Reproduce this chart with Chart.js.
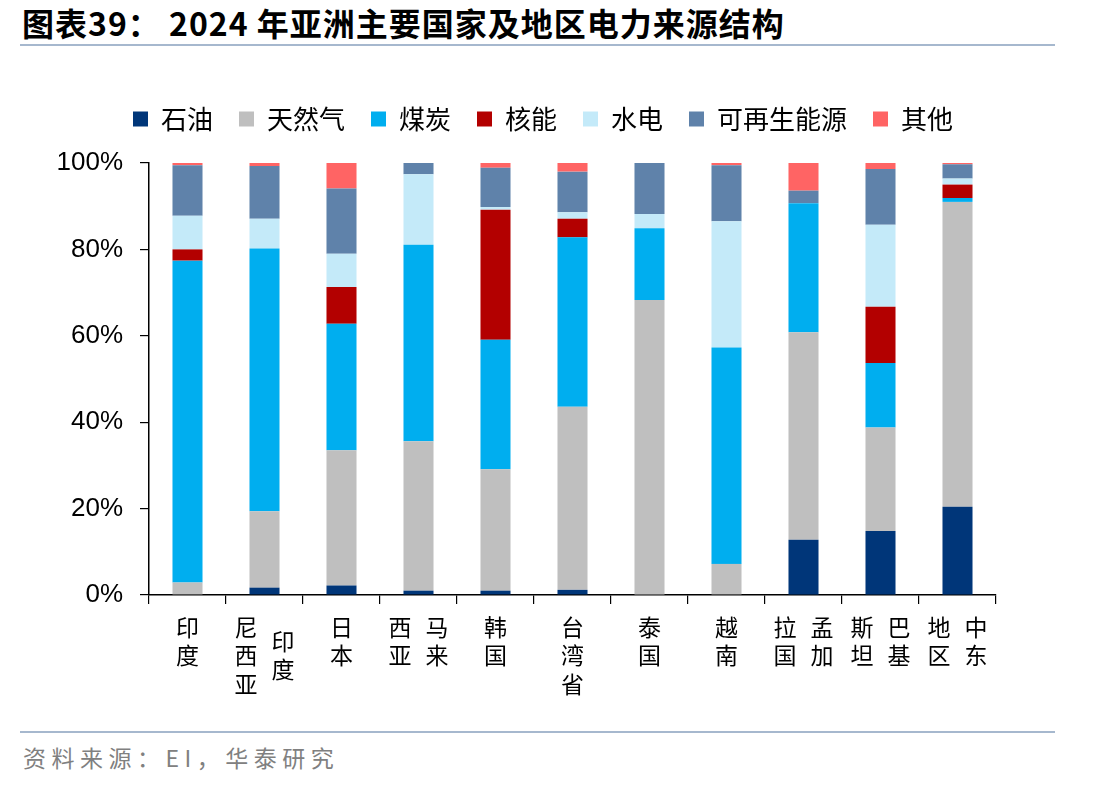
<!DOCTYPE html>
<html lang="zh">
<head>
<meta charset="UTF-8">
<title>2024年亚洲主要国家及地区电力来源结构</title>
<script src="https://cdn.jsdelivr.net/npm/chart.js"></script>
<style>
  body {
    margin: 0;
    background: #fff;
    width: 1112px;
    height: 787px;
    position: relative;
    overflow: hidden;
  }
  .title {
    position: absolute;
    left: 22px;
    top: 5px;
    font-family: "Noto Sans CJK SC", sans-serif;
    font-weight: bold;
    font-size: 32px;
    line-height: 34px;
    letter-spacing: 1px;
    color: #000;
    white-space: nowrap;
  }
  .rule {
    position: absolute;
    left: 20px;
    width: 1035px;
    height: 2px;
    background: #a6b8ce;
  }
  .source {
    position: absolute;
    left: 23px;
    top: 742px;
    font-family: "Noto Sans CJK SC", sans-serif;
    font-size: 23px;
    line-height: 30px;
    letter-spacing: 5.5px;
    color: #808080;
    white-space: nowrap;
  }
  .wrap {
    position: absolute;
    left: 0;
    top: 60px;
    width: 1112px;
    height: 660px;
  }
</style>
</head>
<body>
  <div class="title">图表39： 2024 年亚洲主要国家及地区电力来源结构</div>
  <div class="rule" style="top:44px"></div>
  <div class="wrap"><canvas id="chart"></canvas></div>
  <div class="rule" style="top:731px"></div>
  <div class="source">资料来源：EI，华泰研究</div>
<script>
// categories, with vertical label columns listed in reading order (right column first)
const categories = ['印度', '印度尼西亚', '日本', '马来西亚', '韩国', '台湾省', '泰国', '越南', '孟加拉国', '巴基斯坦', '中东地区'];
const labelCols = [['印度'], ['印度', '尼西亚'], ['日本'], ['马来', '西亚'], ['韩国'], ['台湾省'], ['泰国'], ['越南'], ['孟加', '拉国'], ['巴基', '斯坦'], ['中东', '地区']];

// shares, %
const oil     = [0,    1.7,  2.2,  1.0,  1.0,  1.2,  0,    0,    12.8, 14.8, 20.4];
const gas     = [2.9,  17.7, 31.3, 34.6, 28.1, 42.4, 68.3, 7.2,  48.0, 24.0, 70.6];
const coal    = [74.5, 60.8, 29.3, 45.5, 30.0, 39.2, 16.6, 50.1, 29.9, 14.9, 0.9];
const nuclear = [2.6,  0,    8.5,  0,    30.1, 4.3,  0,    0,    0,    13.0, 3.1];
const hydro   = [7.8,  6.9,  7.7,  16.3, 0.6,  1.5,  3.3,  29.2, 0,    19.0, 1.4];
const renew   = [11.7, 12.2, 15.1, 2.6,  9.1,  9.4,  11.8, 13.0, 2.9,  12.9, 3.3];
const other   = [0.5,  0.7,  5.9,  0,    1.1,  2.0,  0,    0.5,  6.4,  1.4,  0.3];

const yTicks = [0, 20, 40, 60, 80, 100];

const cjk = '"Noto Sans CJK SC", sans-serif';

// legend: a bigger gap under it, and centred a little left of the plot centre
const legendFix = {
  id: 'legendFix',
  beforeInit(chart) {
    const fit = chart.legend.fit;
    chart.legend.fit = function () {
      fit.bind(chart.legend)();
      this.height += 21;
    };
  },
  afterLayout(chart) {
    chart.legend.left += 45;
    chart.legend.right += 45;
  }
};

// vertical category labels, columns right-to-left
const verticalLabels = {
  id: 'verticalLabels',
  afterDraw(chart) {
    const ctx = chart.ctx;
    const xs = chart.scales.x;
    const top = chart.chartArea.bottom + 32;
    const colGap = 37, rowGap = 28.5;
    ctx.save();
    ctx.font = '23px ' + cjk;
    ctx.fillStyle = '#000';
    ctx.textAlign = 'center';
    ctx.textBaseline = 'middle';
    labelCols.forEach((cols, i) => {
      const cx = xs.getPixelForValue(i);
      const maxLen = Math.max(...cols.map(c => c.length));
      cols.forEach((col, j) => {
        const x = cx + (cols.length - 1) / 2 * colGap - j * colGap;
        const off = (maxLen - col.length) / 2 * rowGap;
        [...col].forEach((ch, k) => ctx.fillText(ch, x, top + off + k * rowGap));
      });
    });
    ctx.restore();
  }
};

const ctx = document.getElementById('chart').getContext('2d');
new Chart(ctx, {
  type: 'bar',
  data: {
    labels: categories,
    datasets: [
      { label: '石油', data: oil, backgroundColor: '#003679' },
      { label: '天然气', data: gas, backgroundColor: '#bfbfbf' },
      { label: '煤炭', data: coal, backgroundColor: '#00aeef' },
      { label: '核能', data: nuclear, backgroundColor: '#b30000' },
      { label: '水电', data: hydro, backgroundColor: '#c4eaf9' },
      { label: '可再生能源', data: renew, backgroundColor: '#5f82aa' },
      { label: '其他', data: other, backgroundColor: '#ff6464' }
    ]
  },
  options: {
    responsive: true,
    maintainAspectRatio: false,
    animation: false,
    layout: { padding: { left: 0, right: 116, top: 20, bottom: 116 } },
    datasets: { bar: { barPercentage: 0.39, categoryPercentage: 1, borderWidth: 0 } },
    plugins: {
      tooltip: { enabled: false },
      legend: {
        position: 'top',
        labels: {
          boxWidth: 15,
          boxHeight: 15,
          padding: 26,
          color: '#000',
          font: { family: cjk, size: 26 }
        }
      }
    },
    scales: {
      x: {
        stacked: true,
        grid: { offset: true, drawOnChartArea: false, tickLength: 9, color: '#000', lineWidth: 1.2 },
        border: { color: '#000', width: 1.5 },
        ticks: { display: false }
      },
      y: {
        stacked: true,
        min: 0,
        max: 100,
        afterFit(scale) { scale.width = 149; },
        afterBuildTicks(scale) { scale.ticks = yTicks.map(v => ({ value: v })); },
        grid: { drawOnChartArea: false, tickLength: 9, color: '#000', lineWidth: 1.2 },
        border: { color: '#000', width: 1.5 },
        ticks: {
          padding: 17,
          color: '#000',
          font: { family: '"Liberation Sans", Arial, sans-serif', size: 26 },
          callback: v => v + '%'
        }
      }
    }
  },
  plugins: [legendFix, verticalLabels]
});
</script>
</body>
</html>
